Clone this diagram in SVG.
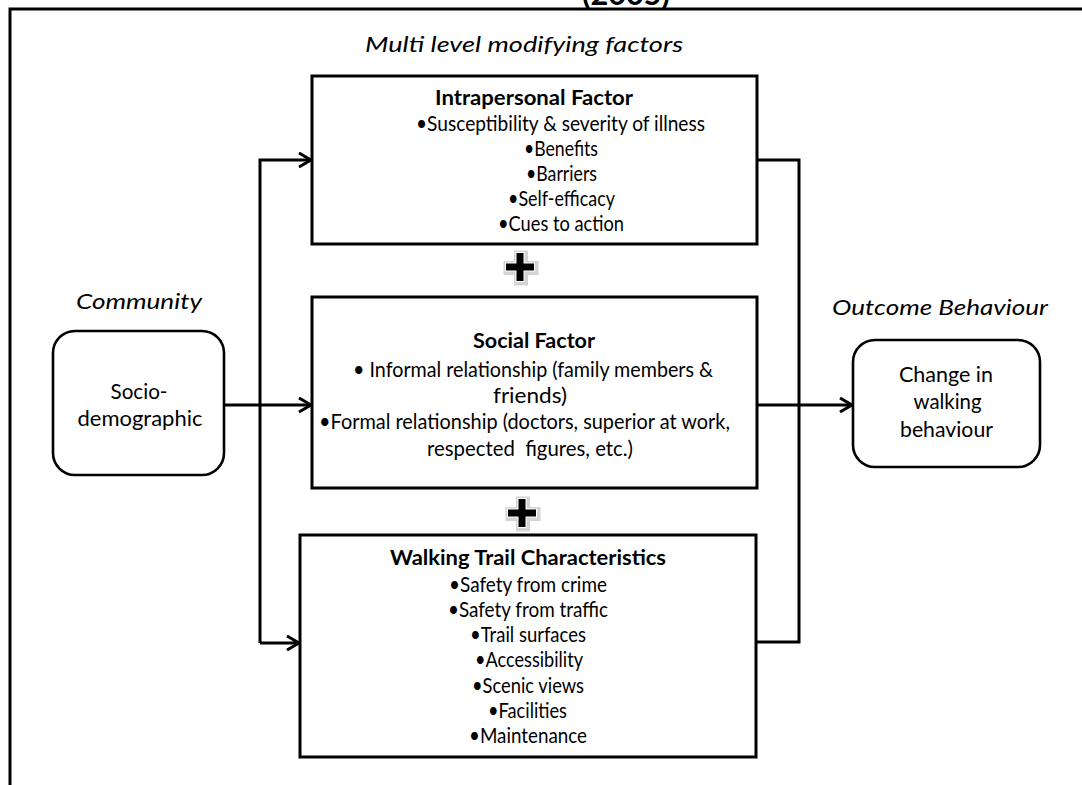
<svg xmlns="http://www.w3.org/2000/svg" xmlns:xlink="http://www.w3.org/1999/xlink" width="1082" height="785" viewBox="0 0 1082 785">
<style>
text{font-family:Lato,"Liberation Sans","DejaVu Sans",sans-serif;fill:#000;}
.t{font-size:21px;text-anchor:middle;}
.b{font-weight:bold;}
.lbl{font-size:22px;font-style:italic;text-anchor:middle;}
.box{fill:#fff;stroke:#000;stroke-width:3;}
.rbox{fill:#fff;stroke:#000;stroke-width:2.6;}
.con{fill:none;stroke:#000;stroke-width:3;}
.frame{fill:none;stroke:#000;stroke-width:3;}
</style>
<defs>
<marker id="arr" markerUnits="userSpaceOnUse" markerWidth="20" markerHeight="20" refX="13" refY="8" orient="auto">
<path d="M1,1 L13,8 L1,15" fill="none" stroke="#000" stroke-width="3"/>
</marker>
<path id="plus" d="M-3.5,-14 h7 v10.5 h10.5 v7 h-10.5 v10.5 h-7 v-10.5 h-10.5 v-7 h10.5 z"/>
<clipPath id="topclip"><rect x="0" y="0" width="1082" height="8.5"/></clipPath>
</defs>
<rect width="1082" height="785" fill="#fff"/>

<g id="title" clip-path="url(#topclip)">
<text x="626" y="5" style="font-size:30px;font-weight:bold;text-anchor:middle;" textLength="88" lengthAdjust="spacingAndGlyphs">(2005)</text>
</g>
<g id="frame">
<path class="frame" d="M10,785 V9 H1082"/>
</g>

<g id="labels">
<text class="lbl" x="524" y="52" textLength="318" lengthAdjust="spacingAndGlyphs">Multi level modifying factors</text>
<text class="lbl" x="139" y="309" textLength="126" lengthAdjust="spacingAndGlyphs">Community</text>
<text class="lbl" x="940" y="315" textLength="216" lengthAdjust="spacingAndGlyphs">Outcome Behaviour</text>
</g>

<g id="connectors">
<path class="con" d="M224,405 H311" marker-end="url(#arr)"/>
<path class="con" d="M260,643 V160 H311" marker-end="url(#arr)"/>
<path class="con" d="M260,643 H299" marker-end="url(#arr)"/>
<path class="con" d="M757,160 H799 V642 H757"/>
<path class="con" d="M757,405 H852" marker-end="url(#arr)"/>
</g>

<g id="socio">
<rect class="rbox" x="53" y="331" width="171" height="144" rx="22" ry="22"/>
<text class="t" x="139" y="399" style="font-size:22px" textLength="57" lengthAdjust="spacingAndGlyphs">Socio-</text>
<text class="t" x="140" y="426" style="font-size:22px" textLength="125" lengthAdjust="spacingAndGlyphs">demographic</text>
</g>

<g id="intrapersonal">
<rect class="box" x="312" y="76" width="445" height="168"/>
<text class="t b" x="534" y="105" textLength="198" lengthAdjust="spacingAndGlyphs">Intrapersonal Factor</text>
<text class="t" x="560.5" y="131" textLength="289" lengthAdjust="spacingAndGlyphs">•Susceptibility &amp; severity of illness</text>
<text class="t" x="561" y="156" textLength="74" lengthAdjust="spacingAndGlyphs">•Benefits</text>
<text class="t" x="561.5" y="181" textLength="71" lengthAdjust="spacingAndGlyphs">•Barriers</text>
<text class="t" x="561.5" y="206" textLength="107" lengthAdjust="spacingAndGlyphs">•Self-efficacy</text>
<text class="t" x="561" y="231" textLength="126" lengthAdjust="spacingAndGlyphs">•Cues to action</text>
</g>

<g id="plus1" transform="translate(520,267)">
<use xlink:href="#plus" href="#plus" fill="none" stroke="#d4d4d4" stroke-width="7" stroke-linejoin="miter" transform="translate(1,1)"/>
<use xlink:href="#plus" href="#plus" fill="#000" stroke="#fff" stroke-width="2"/>
<use xlink:href="#plus" href="#plus" fill="#000"/>
</g>

<g id="social">
<rect class="box" x="312" y="297" width="445" height="191"/>
<text class="t b" x="534" y="348" textLength="122" lengthAdjust="spacingAndGlyphs">Social Factor</text>
<text class="t" x="533" y="377" textLength="360" lengthAdjust="spacingAndGlyphs">• Informal relationship (family members &amp;</text>
<text class="t" x="530" y="403" textLength="74" lengthAdjust="spacingAndGlyphs">friends)</text>
<text class="t" x="524.5" y="429" textLength="411" lengthAdjust="spacingAndGlyphs">•Formal relationship (doctors, superior at work,</text>
<text class="t" x="530" y="456" xml:space="preserve" style="white-space:pre" textLength="206" lengthAdjust="spacingAndGlyphs">respected  figures, etc.)</text>
</g>

<g id="plus2" transform="translate(522,513)">
<use xlink:href="#plus" href="#plus" fill="none" stroke="#d4d4d4" stroke-width="7" stroke-linejoin="miter" transform="translate(1,1)"/>
<use xlink:href="#plus" href="#plus" fill="#000" stroke="#fff" stroke-width="2"/>
<use xlink:href="#plus" href="#plus" fill="#000"/>
</g>

<g id="walking">
<rect class="box" x="300" y="535" width="456" height="222"/>
<text class="t b" x="528" y="565" textLength="276" lengthAdjust="spacingAndGlyphs">Walking Trail Characteristics</text>
<text class="t" x="528" y="592" textLength="158" lengthAdjust="spacingAndGlyphs">•Safety from crime</text>
<text class="t" x="528" y="617" textLength="160" lengthAdjust="spacingAndGlyphs">•Safety from traffic</text>
<text class="t" x="528" y="642" textLength="116" lengthAdjust="spacingAndGlyphs">•Trail surfaces</text>
<text class="t" x="529" y="667" textLength="108" lengthAdjust="spacingAndGlyphs">•Accessibility</text>
<text class="t" x="528" y="693" textLength="112" lengthAdjust="spacingAndGlyphs">•Scenic views</text>
<text class="t" x="527.5" y="718" textLength="79" lengthAdjust="spacingAndGlyphs">•Facilities</text>
<text class="t" x="528" y="743" textLength="118" lengthAdjust="spacingAndGlyphs">•Maintenance</text>
</g>

<g id="outcome">
<rect class="rbox" x="853" y="340" width="187" height="127" rx="22" ry="22"/>
<text class="t" x="946" y="382" style="font-size:22px" textLength="94" lengthAdjust="spacingAndGlyphs">Change in</text>
<text class="t" x="947.5" y="409" style="font-size:22px" textLength="68" lengthAdjust="spacingAndGlyphs">walking</text>
<text class="t" x="946.5" y="437" style="font-size:22px" textLength="93" lengthAdjust="spacingAndGlyphs">behaviour</text>
</g>
</svg>
